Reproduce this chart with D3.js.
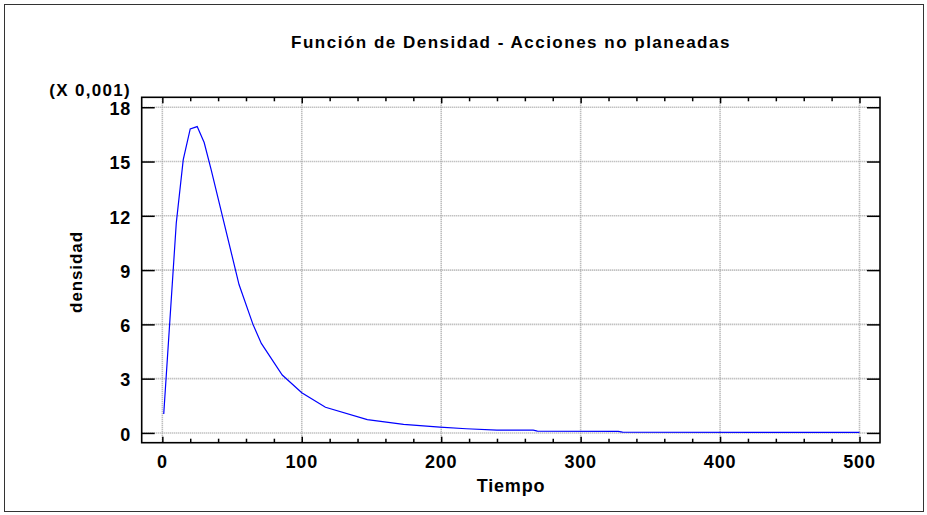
<!DOCTYPE html>
<html>
<head>
<meta charset="utf-8">
<script src="https://cdn.jsdelivr.net/npm/d3@7"></script>
<style>
  html, body { margin: 0; padding: 0; background: #fff; }
  svg { display: block; }
  text { font-family: "Liberation Sans", Arial, sans-serif; font-weight: bold; fill: #000; }
</style>
</head>
<body>
<svg id="chart" width="927" height="515"></svg>
<script>
// ---- data ----
const title = "Función de Densidad - Acciones no planeadas";
const xLabel = "Tiempo";
const yLabel = "densidad";
const yScaleNote = "(X 0,001)";
const tiempo = [1, 10, 15, 20, 25, 30, 35, 55, 65, 71, 86, 100, 117, 147, 173, 199, 218, 240, 266, 269, 327, 330, 500];
const densidad = [1.05, 11.6, 15.1, 16.8, 16.93, 16.05, 14.55, 8.2, 6.0, 4.95, 3.2, 2.22, 1.42, 0.74, 0.47, 0.32, 0.23, 0.16, 0.15, 0.1, 0.09, 0.04, 0.03];
const xTicks = [0, 100, 200, 300, 400, 500];
const xMinorTicks = d3.range(0, 501, 20);
const yTicks = [0, 3, 6, 9, 12, 15, 18];

// ---- layout ----
const svg = d3.select("#chart");
const L = 141.7, R = 880, T = 97.3, B = 442.7;
const x = d3.scaleLinear().domain([-14.8, 514.7]).range([L, R]);
const y = d3.scaleLinear().domain([-0.54, 18.55]).range([B, T]);

// outer frame
svg.append("rect").attr("x", 4.5).attr("y", 4.5).attr("width", 919).attr("height", 507)
  .attr("fill", "none").attr("stroke", "#333").attr("stroke-width", 1);

// gridlines
const grid = svg.append("g").attr("stroke", "#a8a8a8").attr("stroke-width", 1.6).attr("stroke-dasharray", "1,1");
grid.selectAll("line.h").data(yTicks).join("line").attr("class", "h")
  .attr("x1", L).attr("x2", R).attr("y1", d => y(d)).attr("y2", d => y(d));
grid.selectAll("line.v").data(xTicks).join("line").attr("class", "v")
  .attr("y1", T).attr("y2", B).attr("x1", d => x(d)).attr("x2", d => x(d));

// curve
svg.append("path").datum(tiempo.map((t, i) => [t, densidad[i]]))
  .attr("fill", "none").attr("stroke", "#0000ff").attr("stroke-width", 1.2)
  .attr("d", d3.line().x(d => x(d[0])).y(d => y(d[1])));

// axes (ticks pointing inward)
const fmt = d3.format("d");
const axB = d3.axisBottom(x).tickValues(xTicks).tickSizeInner(-6).tickSizeOuter(0).tickFormat(() => "");
const axBm = d3.axisBottom(x).tickValues(xMinorTicks.filter(v => v % 100 !== 0)).tickSizeInner(-4).tickSizeOuter(0).tickFormat(() => "");
const axT = d3.axisTop(x).tickValues(xTicks).tickSizeInner(-6).tickSizeOuter(0).tickFormat(() => "");
const axTm = d3.axisTop(x).tickValues(xMinorTicks.filter(v => v % 100 !== 0)).tickSizeInner(-4).tickSizeOuter(0).tickFormat(() => "");
const axL = d3.axisLeft(y).tickValues(yTicks).tickSizeInner(-13).tickSizeOuter(0).tickFormat(() => "");
const axR = d3.axisRight(y).tickValues(yTicks).tickSizeInner(-13).tickSizeOuter(0).tickFormat(() => "");
[[axB, `translate(0,${B})`], [axBm, `translate(0,${B})`], [axT, `translate(0,${T})`], [axTm, `translate(0,${T})`],
 [axL, `translate(${L},0)`], [axR, `translate(${R},0)`]].forEach(([ax, tr]) => {
  const g = svg.append("g").attr("transform", tr).call(ax);
  g.select(".domain").remove();
  g.selectAll("line").attr("stroke", "#000").attr("stroke-width", 1.5);
});
// frame of plot
svg.append("rect").attr("x", L).attr("y", T).attr("width", R - L).attr("height", B - T)
  .attr("fill", "none").attr("stroke", "#000").attr("stroke-width", 1.6);

// tick labels
svg.append("g").selectAll("text").data(xTicks).join("text")
  .attr("x", d => x(d)).attr("y", 468).attr("text-anchor", "middle")
  .style("font-size", "18px").style("letter-spacing", "0.8px").text(fmt);
svg.append("g").selectAll("text").data(yTicks).join("text")
  .attr("x", 131).attr("y", d => y(d) + 7.8).attr("text-anchor", "end")
  .style("font-size", "18px").style("letter-spacing", "0.8px").text(fmt);

// labels
svg.append("text").attr("x", 511).attr("y", 48).attr("text-anchor", "middle")
  .style("font-size", "17px").style("letter-spacing", "1.5px").text(title);
svg.append("text").attr("x", 511).attr("y", 492).attr("text-anchor", "middle")
  .style("font-size", "18px").style("letter-spacing", "0.8px").text(xLabel);
svg.append("text").attr("transform", "translate(82,272) rotate(-90)").attr("text-anchor", "middle")
  .style("font-size", "17px").style("letter-spacing", "0.9px").text(yLabel);
svg.append("text").attr("x", 131).attr("y", 95.5).attr("text-anchor", "end")
  .style("font-size", "17px").style("letter-spacing", "1.3px").text(yScaleNote);
</script>
</body>
</html>
